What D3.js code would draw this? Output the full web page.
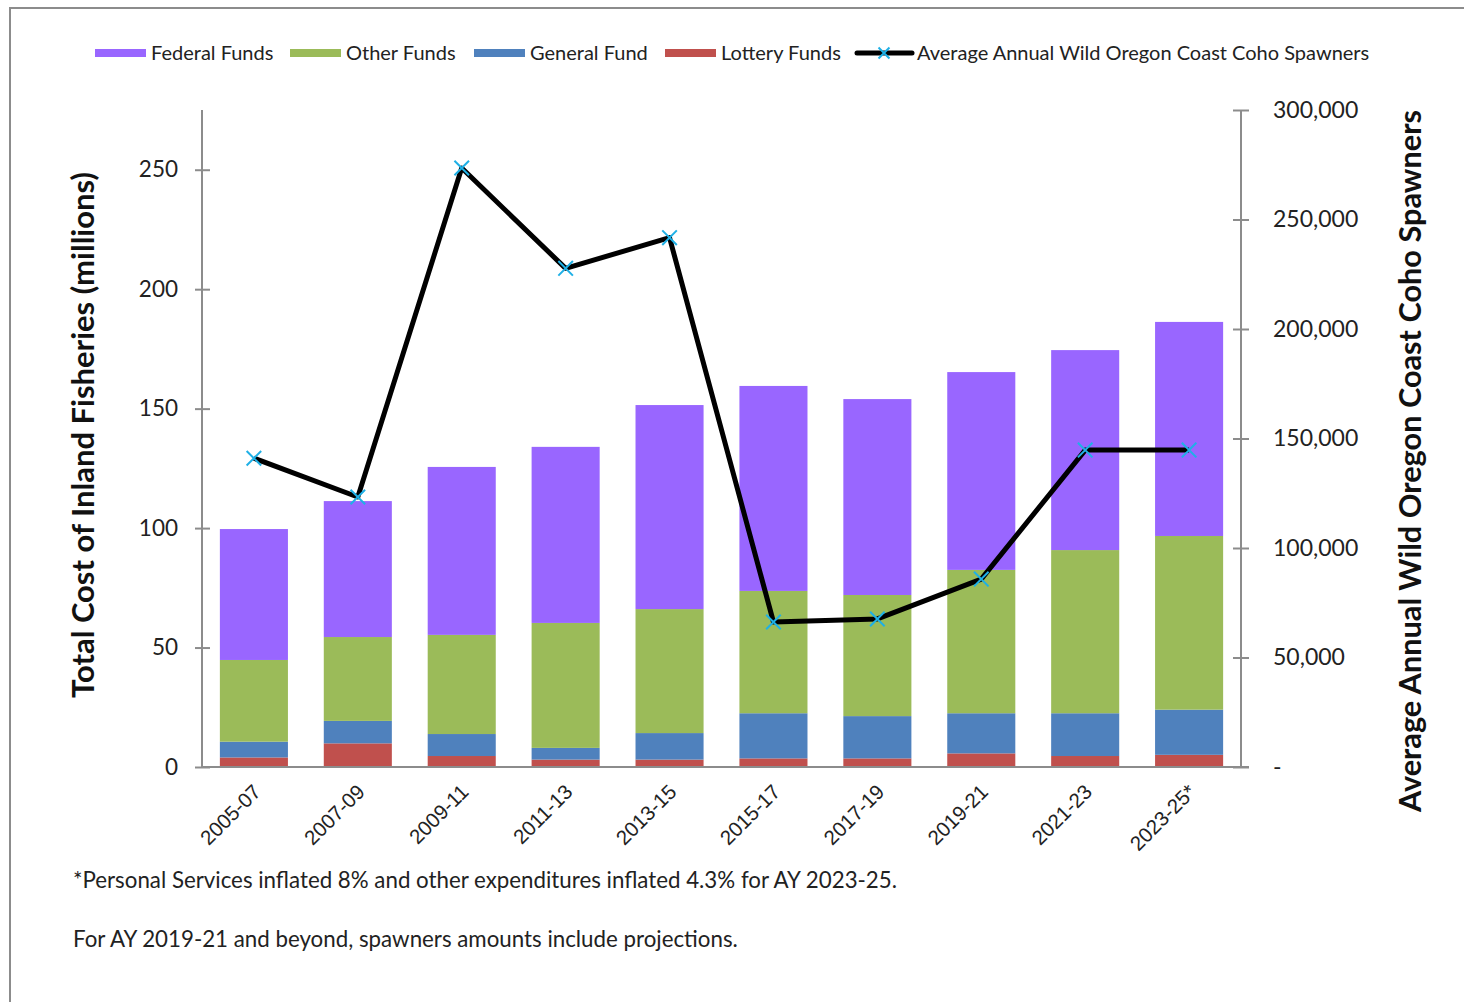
<!DOCTYPE html>
<html>
<head>
<meta charset="utf-8">
<script src="https://cdn.jsdelivr.net/npm/d3@7"></script>
<style>
  body { margin: 0; background: #fff; }
  svg { display: block; }
</style>
</head>
<body>
<div id="chart"></div>
<script>
  // ============================================
  // Inland fisheries cost vs coho spawners
  // ============================================

  const periods = ["2005-07", "2007-09", "2009-11", "2011-13", "2013-15", "2015-17", "2017-19", "2019-21", "2021-23", "2023-25*"];
  const lotteryFunds = [4.0, 9.9, 4.6, 3.1, 3.1, 3.6, 3.6, 5.7, 4.6, 5.1];
  const generalFund  = [6.6, 9.4, 9.2, 4.9, 11.1, 18.9, 17.7, 16.8, 17.9, 18.9];
  const otherFunds   = [34.2, 35.1, 41.5, 52.3, 51.9, 51.2, 50.7, 60.0, 68.3, 72.7];
  const federalFunds = [54.8, 56.9, 70.3, 73.7, 85.4, 85.8, 82.0, 82.8, 83.7, 89.6];
  const spawners = [141000, 123300, 273500, 227700, 241700, 66200, 67600, 85800, 144700, 144700];

  const leftTicks = [0, 50, 100, 150, 200, 250];
  const rightTicks = [0, 50000, 100000, 150000, 200000, 250000, 300000];

  const seriesKeys = ["lottery", "general", "other", "federal"];
  const seriesColors = { federal: "#9966ff", other: "#9bbb59", general: "#4f81bd", lottery: "#c0504d" };
  const legendItems = [
    { key: "federal", label: "Federal Funds", x: 95 },
    { key: "other", label: "Other Funds", x: 290 },
    { key: "general", label: "General Fund", x: 474 },
    { key: "lottery", label: "Lottery Funds", x: 665 }
  ];

  const width = 1464, height = 1002;
  const margin = { top: 110, right: 223, bottom: 235, left: 202 };
  const axisGray = "#8c8c8c";
  const uiFont = "Lato, 'Open Sans', sans-serif";

  const svg = d3.select("#chart").append("svg")
    .attr("width", width)
    .attr("height", height);

  // outer frame (clipped by viewport on right/bottom)
  svg.append("rect")
    .attr("x", 10).attr("y", 8)
    .attr("width", 1470).attr("height", 1010)
    .attr("fill", "none")
    .attr("stroke", axisGray)
    .attr("stroke-width", 2);

  const table = periods.map((p, i) => ({
    period: p,
    lottery: lotteryFunds[i],
    general: generalFund[i],
    other: otherFunds[i],
    federal: federalFunds[i],
    spawners: spawners[i]
  }));

  const x = d3.scaleBand()
    .domain(periods)
    .range([margin.left, width - margin.right])
    .paddingInner(0.345)
    .paddingOuter(0.172);

  const y = d3.scaleLinear()
    .domain([0, 275])
    .range([height - margin.bottom, margin.top]);

  const y2 = d3.scaleLinear()
    .domain([0, 300000])
    .range([height - margin.bottom, margin.top]);

  // Bars
  const stack = d3.stack().keys(seriesKeys)(table);
  svg.append("g")
    .selectAll("g")
    .data(stack)
    .join("g")
    .attr("fill", d => seriesColors[d.key])
    .selectAll("rect")
    .data(d => d)
    .join("rect")
    .attr("x", d => x(d.data.period))
    .attr("width", x.bandwidth())
    .attr("y", d => y(d[1]))
    .attr("height", d => y(d[0]) - y(d[1]));

  // Axes
  const leftAxis = svg.append("g")
    .attr("transform", `translate(${margin.left},0)`)
    .call(d3.axisLeft(y).tickValues(leftTicks).tickSize(0).tickPadding(24));
  leftAxis.select(".domain").remove();
  leftAxis.append("line")
    .attr("x1", 0).attr("x2", 0)
    .attr("y1", y(0)).attr("y2", margin.top)
    .attr("stroke", axisGray).attr("stroke-width", 2);
  leftAxis.selectAll(".tick").append("line")
    .attr("x1", -7).attr("x2", 8)
    .attr("stroke", axisGray).attr("stroke-width", 2);
  leftAxis.selectAll(".tick text")
    .attr("font-family", uiFont)
    .attr("font-size", 22.5)
    .attr("fill", "#222");

  const rightX = width - margin.right;
  const rightAxis = svg.append("g")
    .attr("transform", `translate(${rightX},0)`)
    .call(d3.axisRight(y2).tickValues(rightTicks).tickSize(0).tickPadding(32)
      .tickFormat(d => d === 0 ? "-" : d3.format(",")(d)));
  rightAxis.select(".domain").remove();
  rightAxis.append("line")
    .attr("x1", 0).attr("x2", 0)
    .attr("y1", y2(0)).attr("y2", margin.top)
    .attr("stroke", axisGray).attr("stroke-width", 2);
  rightAxis.selectAll(".tick").append("line")
    .attr("x1", -8).attr("x2", 8)
    .attr("stroke", axisGray).attr("stroke-width", 2);
  rightAxis.selectAll(".tick text")
    .attr("font-family", uiFont)
    .attr("font-size", 23)
    .attr("fill", "#222");

  // baseline
  svg.append("line")
    .attr("x1", margin.left).attr("x2", rightX + 8)
    .attr("y1", y(0)).attr("y2", y(0))
    .attr("stroke", axisGray).attr("stroke-width", 2);

  // x labels rotated
  svg.append("g")
    .selectAll("text")
    .data(periods)
    .join("text")
    .attr("transform", d => `translate(${x(d) + x.bandwidth() / 2 - 2},${y(0) + 16}) rotate(-45)`)
    .attr("text-anchor", "end")
    .attr("dy", "0.7em")
    .attr("font-family", "'Liberation Sans', Arial, sans-serif")
    .attr("font-size", 20.5)
    .attr("fill", "#222")
    .text(d => d);

  // Line
  const cx = d => x(d.period) + x.bandwidth() / 2;
  const line = d3.line().x(cx).y(d => y2(d.spawners));
  svg.append("path")
    .datum(table)
    .attr("fill", "none")
    .attr("stroke", "#000")
    .attr("stroke-width", 5)
    .attr("stroke-linejoin", "round")
    .attr("d", line);

  const markerPath = d3.symbol().type(d3.symbolX).size(140);
  svg.append("g")
    .selectAll("path")
    .data(table)
    .join("path")
    .attr("transform", d => `translate(${cx(d)},${y2(d.spawners)})`)
    .attr("d", markerPath)
    .attr("fill", "none")
    .attr("stroke", "#1fb0e6")
    .attr("stroke-width", 2);

  // Axis titles
  svg.append("text")
    .attr("transform", `translate(94,435) rotate(-90)`)
    .attr("text-anchor", "middle")
    .attr("font-family", uiFont)
    .attr("font-weight", "bold")
    .attr("font-size", 31)
    .attr("fill", "#111")
    .text("Total Cost of Inland Fisheries (millions)");

  svg.append("text")
    .attr("transform", `translate(1421,461) rotate(-90)`)
    .attr("text-anchor", "middle")
    .attr("font-family", uiFont)
    .attr("font-weight", "bold")
    .attr("font-size", 30.7)
    .attr("fill", "#111")
    .text("Average Annual Wild Oregon Coast Coho Spawners");

  // Legend
  const legend = svg.append("g").attr("font-family", uiFont).attr("font-size", 20).attr("fill", "#222");
  legendItems.forEach(item => {
    legend.append("rect")
      .attr("x", item.x).attr("y", 49)
      .attr("width", 51).attr("height", 8)
      .attr("fill", seriesColors[item.key]);
    legend.append("text")
      .attr("x", item.x + 56).attr("y", 60)
      .text(item.label);
  });
  legend.append("line")
    .attr("x1", 857).attr("x2", 912)
    .attr("y1", 53).attr("y2", 53)
    .attr("stroke", "#000").attr("stroke-width", 5)
    .attr("stroke-linecap", "round");
  legend.append("path")
    .attr("transform", "translate(884,53)")
    .attr("d", d3.symbol().type(d3.symbolX).size(80)())
    .attr("fill", "none").attr("stroke", "#1fb0e6").attr("stroke-width", 2);
  legend.append("text")
    .attr("x", 917).attr("y", 60)
    .text("Average Annual Wild Oregon Coast Coho Spawners");

  // Footnotes
  const notes = ["*Personal Services inflated 8% and other expenditures inflated 4.3% for AY 2023-25.",
                 "For AY 2019-21 and beyond, spawners amounts include projections."];
  svg.append("g")
    .selectAll("text")
    .data(notes)
    .join("text")
    .attr("x", 73)
    .attr("y", (d, i) => 888 + i * 59)
    .attr("font-family", uiFont)
    .attr("font-size", 22.3)
    .attr("fill", "#222")
    .text(d => d);
</script>
</body>
</html>
